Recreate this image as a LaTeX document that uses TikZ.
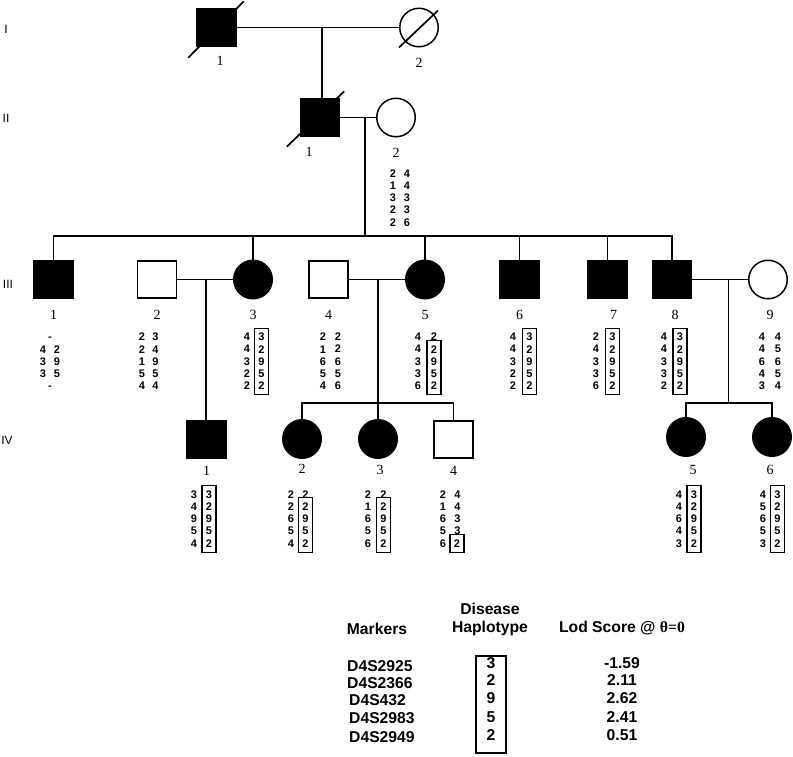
\documentclass[tikz,border=0pt]{standalone}
\usepackage{fontspec}
\setmainfont{Liberation Serif}
\setsansfont{Liberation Sans}
\usetikzlibrary{positioning,calc}

\begin{document}
\begin{tikzpicture}[x=1pt,y=-1pt]
	\tikzset{indiv/.style={draw, line width=1.5pt, inner sep=0pt},
		male/.style={indiv, rectangle, minimum width=39pt, minimum height=37pt},
		female/.style={indiv, circle, minimum size=38.5pt},
		aff/.style={fill=black},
		num/.style={font=\fontsize{14}{16}\selectfont, inner sep=0pt},
		gen/.style={font=\sffamily\fontsize{12}{14}\selectfont, inner sep=0pt},
		hap/.style={font=\sffamily\bfseries\fontsize{11}{12.2}\selectfont, align=center, inner sep=0pt},
		hbox/.style={hap, draw, line width=1.2pt, inner xsep=4pt, inner ysep=5pt},
		tab/.style={font=\sffamily\bfseries\fontsize{15.7}{19}\selectfont, inner sep=0pt, text height=11.2pt, text depth=0pt},
		link/.style={line width=1.7pt},
	}
	\useasboundingbox (0,0) rectangle (793,756);

	\node[gen] (gI) at (6,29) {I};
	\node[gen] (gII) at (6,118) {II};
	\node[gen] (gIII) at (8,284) {III};
	\node[gen] (gIV) at (7,440) {IV};

	% generation I and II
	\node[male, aff] (I1) at (216.5,27.5) {};
	\node[female] (I2) at (419,27.5) {};
	\node[male, aff] (II1) at (320,117.5) {};
	\node[female] (II2) at (396,117.5) {};
	\node[num, below=9pt of I1, xshift=3.5pt] (lI1) {1};
	\node[num, below=11pt of I2] (lI2) {2};
	\node[num, below=10pt of II1, xshift=-11pt] (lII1) {1};
	\node[num, below=11pt of II2] (lII2) {2};

	\draw[link] ($(I1.south west)+(-8,11)$) -- ($(I1.north east)+(7,-7)$);
	\draw[link] ($(I2.center)+(-20,20)$) -- ($(I2.center)+(19,-17)$);
	\draw[link] ($(II1.south west)+(-13,10)$) -- ($(II1.north east)+(4,-7)$);

	\coordinate (m1) at (322,27.5);
	\coordinate (m2) at (365,117.5);
	\coordinate (sib3) at (365,236);
	\draw[link] (I1.east) -- (I2.west);
	\draw[link] (m1) -- (m1 |- II1.north);
	\draw[link] (II1.east) -- (II2.west);
	\draw[link] (m2) -- (sib3);

	\node[hap] (hII2l) at (393,197.9) {2\\1\\3\\2\\2};
	\node[hap] (hII2r) at (407,197.9) {4\\4\\3\\3\\6};

	% generation III
	\node[male, aff] (III1) at (53.5,279.5) {};
	\node[male] (III2) at (157,279.5) {};
	\node[female, aff] (III3) at (253,279.5) {};
	\node[male] (III4) at (328.5,279.5) {};
	\node[female, aff] (III5) at (425,279.5) {};
	\node[male, aff] (III6) at (519.5,279.5) {};
	\node[male, aff] (III7) at (607.5,279.5) {};
	\node[male, aff] (III8) at (672,279.5) {};
	\node[female] (III9) at (768,279.5) {};
	\node[num, below=11pt of III1] (lIII1) {1};
	\node[num, below=11pt of III2] (lIII2) {2};
	\node[num, below=11pt of III3] (lIII3) {3};
	\node[num, below=11pt of III4] (lIII4) {4};
	\node[num, below=11pt of III5] (lIII5) {5};
	\node[num, below=11pt of III6] (lIII6) {6};
	\node[num, below=11pt of III7, xshift=6pt] (lIII7) {7};
	\node[num, below=11pt of III8, xshift=3pt] (lIII8) {8};
	\node[num, below=11pt of III9, xshift=2pt] (lIII9) {9};

	\draw[link] (III1.north) |- (III8.north |- sib3) -- (III8.north);
	\draw[link] (III3.north) -- (III3.north |- sib3);
	\draw[link] (III5.north) -- (III5.north |- sib3);
	\draw[link] (III6.north) -- (III6.north |- sib3);
	\draw[link] (III7.north) -- (III7.north |- sib3);

	\node[hap] (hIII1) at (50,361.4) {\vphantom{0}-\\4\hspace{7.9pt}2\\3\hspace{7.9pt}9\\3\hspace{7.9pt}5\\-};
	\node[hap] (hIII2l) at (142,361.4) {2\\2\\1\\5\\4};
	\node[hap] (hIII2r) at (155.5,361.4) {3\\4\\9\\5\\4};
	\node[hap] (hIII3l) at (247,361.4) {4\\4\\3\\2\\2};
	\node[hbox] (hIII3r) at (261.5,361.4) {3\\2\\9\\5\\2};
	\node[hap] (hIII4l) at (323,361.4) {2\\1\\6\\5\\4};
	\node[hap] (hIII4r) at (338,361.4) {2\\2\\6\\5\\6};
	\node[hap] (hIII5l) at (418,361.4) {4\\4\\3\\3\\6};
	\node[hap] (hIII5t) at (434,337) {2};
	\node[hbox] (hIII5r) at (434,367.5) {2\\9\\5\\2};
	\node[hap] (hIII6l) at (513,361.4) {4\\4\\3\\2\\2};
	\node[hbox] (hIII6r) at (529.5,361.4) {3\\2\\9\\5\\2};
	\node[hap] (hIII7l) at (596,361.4) {2\\4\\3\\3\\6};
	\node[hbox] (hIII7r) at (612.5,361.4) {3\\2\\9\\5\\2};
	\node[hap] (hIII8l) at (664,361.4) {4\\4\\3\\3\\2};
	\node[hbox] (hIII8r) at (680,361.4) {3\\2\\9\\5\\2};
	\node[hap] (hIII9l) at (762,361.4) {4\\4\\6\\4\\3};
	\node[hap] (hIII9r) at (778,361.4) {4\\5\\6\\5\\4};

	% generation IV
	\node[male, aff] (IV1) at (206.5,439.5) {};
	\node[female, aff] (IV2) at (302,439) {};
	\node[female, aff] (IV3) at (378,439) {};
	\node[male] (IV4) at (453.5,439.5) {};
	\node[female, aff] (IV5) at (686,437) {};
	\node[female, aff] (IV6) at (772,437) {};
	\node[num, below=7pt of IV1] (lIV1) {1};
	\node[num, below=5pt of IV2] (lIV2) {2};
	\node[num, below=6pt of IV3, xshift=2pt] (lIV3) {3};
	\node[num, below=7pt of IV4] (lIV4) {4};
	\node[num, below=8pt of IV5, xshift=7pt] (lIV5) {5};
	\node[num, below=8pt of IV6, xshift=-2pt] (lIV6) {6};

	\coordinate (m32) at (206,279.5);
	\coordinate (m45) at (378,279.5);
	\coordinate (m89) at (728.5,279.5);
	\coordinate (sib4a) at (378,403);
	\coordinate (sib4b) at (728.5,403);
	\draw[link] (III2.east) -- (III3.west);
	\draw[link] (III4.east) -- (III5.west);
	\draw[link] (III8.east) -- (III9.west);
	\draw[link] (m32) -- (m32 |- IV1.north);
	\draw[link] (m45) -- (sib4a);
	\draw[link] (IV2.north) |- (IV4.north |- sib4a) -- (IV4.north);
	\draw[link] (IV3.north) -- (IV3.north |- sib4a);
	\draw[link] (m89) -- (sib4b);
	\draw[link] (IV5.north) |- (IV6.north |- sib4b) -- (IV6.north);

	\node[hap] (hIV1l) at (194,518.9) {3\\4\\9\\5\\4};
	\node[hbox] (hIV1r) at (209,518.9) {3\\2\\9\\5\\2};
	\node[hap] (hIV2l) at (291,518.9) {2\\2\\6\\5\\4};
	\node[hap] (hIV2t) at (305.5,494.5) {2};
	\node[hbox] (hIV2r) at (305.5,525) {2\\9\\5\\2};
	\node[hap] (hIV3l) at (368,518.9) {2\\1\\6\\5\\6};
	\node[hap] (hIV3t) at (383.5,494.5) {2};
	\node[hbox] (hIV3r) at (383.5,525) {2\\9\\5\\2};
	\node[hap] (hIV4l) at (443,518.9) {2\\1\\6\\5\\6};
	\node[hap] (hIV4t) at (457.5,512.8) {4\\4\\3\\3};
	\node[hbox] (hIV4r) at (457,543.3) {2};
	\node[hap] (hIV5l) at (679,518.9) {4\\4\\6\\4\\3};
	\node[hbox] (hIV5r) at (694,518.9) {3\\2\\9\\5\\2};
	\node[hap] (hIV6l) at (763,518.9) {4\\5\\6\\5\\3};
	\node[hbox] (hIV6r) at (777.5,518.9) {3\\2\\9\\5\\2};

	% table
	\node[tab] (mk) at (377,629) {Markers};
	\node[tab] (dis) at (490,609) {Disease};
	\node[tab] (hapt) at (490,627) {Haplotype};
	\node[tab] (lod) at (622,627) {Lod Score @ {\rmfamily θ=0}};

	\node[tab, anchor=west] (mk1) at (347,666) {D4S2925};
	\node[tab, anchor=west] (mk2) at (347,683.3) {D4S2366};
	\node[tab, anchor=west] (mk3) at (349,700) {D4S432};
	\node[tab, anchor=west] (mk4) at (349,718.3) {D4S2983};
	\node[tab, anchor=west] (mk5) at (349,736.7) {D4S2949};

	\node[draw, line width=1.4pt, minimum width=30pt, minimum height=97pt, inner sep=0pt] (tbox) at (491,704.5) {};
	\node[tab] (dh1) at (491,663) {3};
	\node[tab] (dh2) at (491,680) {2};
	\node[tab] (dh3) at (491,698) {9};
	\node[tab] (dh4) at (491,716.5) {5};
	\node[tab] (dh5) at (491,735) {2};

	\node[tab] (ls1) at (622,663) {-1.59};
	\node[tab] (ls2) at (622,680) {2.11};
	\node[tab] (ls3) at (622,698) {2.62};
	\node[tab] (ls4) at (622,716.5) {2.41};
	\node[tab] (ls5) at (622,735) {0.51};
\end{tikzpicture}
\end{document}
